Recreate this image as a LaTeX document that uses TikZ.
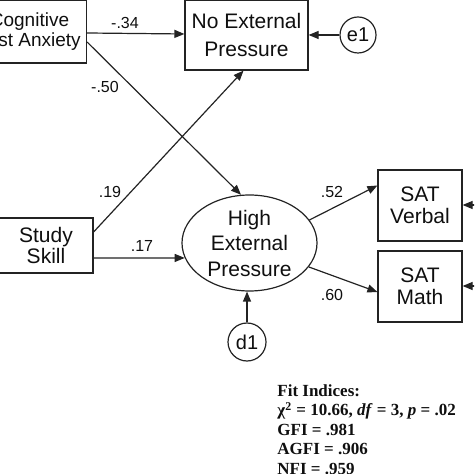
\documentclass[tikz,border=0pt]{standalone}
\usepackage{fontspec}
\setmainfont{Liberation Sans}
\newfontfamily\fitfont{Liberation Serif}
\usetikzlibrary{shapes.geometric,arrows.meta}
\definecolor{linegrey}{RGB}{35,35,35}
\definecolor{textblack}{RGB}{15,15,15}

\tikzset{
  varbox/.style={draw=linegrey, line width=0.6pt, align=center, inner sep=0pt, text=textblack},
  errcirc/.style={draw=linegrey, circle, line width=0.6pt, inner sep=0pt, text=textblack, font=\fontsize{10}{12}\selectfont},
  link/.style={draw=linegrey, line width=0.6pt, -{Triangle[length=5pt,width=4pt]}},
  coef/.style={inner sep=0pt, text=textblack, font=\fontsize{8}{9}\selectfont},
}

\begin{document}
\begin{tikzpicture}[x=0.5pt, y=-0.5pt]
\useasboundingbox (0,0) rectangle (474,474);
\clip (0,0) rectangle (474,474);

% observed and latent variables
\node[varbox, minimum width=57pt, minimum height=31.5pt, font=\fontsize{9.5}{10.25}\selectfont] (cta) at (29.5,31.5) {Cognitive\\Test Anxiety};
\node[varbox, minimum width=61.5pt, minimum height=35pt, font=\fontsize{10.5}{14}\selectfont] (nep) at (246.5,35) {No External\\Pressure};
\node[varbox, minimum width=47pt, minimum height=27.5pt, font=\fontsize{10.5}{10.25}\selectfont] (ss) at (46,245.5) {Study\\Skill};
\node[varbox, ellipse, minimum width=67.5pt, minimum height=48pt, font=\fontsize{10.5}{12.75}\selectfont] (hep) at (249.5,243) {High\\External\\Pressure};
\node[varbox, minimum width=42pt, minimum height=35.5pt, font=\fontsize{10.5}{11}\selectfont] (verbal) at (420,205.5) {SAT\\Verbal};
\node[varbox, minimum width=42pt, minimum height=35.5pt, font=\fontsize{10.5}{11}\selectfont] (math) at (420,286.5) {SAT\\Math};

% residuals
\node[errcirc, minimum size=18pt] (e1) at (358,35) {e1};
\node[errcirc, minimum size=19pt] (d1) at (247,342) {d1};
\coordinate (ev) at (495,205);
\coordinate (em) at (495,286);

% paths
\draw[link] ([yshift=-0.75pt]cta.east) -- ([yshift=0.5pt]nep.west);
\draw[link] ([yshift=-5.25pt]cta.east) -- (hep.100);
\draw[link] ([yshift=6.75pt]ss.east) -- ([xshift=-1.5pt]nep.south);
\draw[link] ([yshift=-6.25pt]ss.east) -- (hep.193);
\draw[link] (hep.21) -- ([yshift=10pt]verbal.west);
\draw[link] (hep.-22) -- ([yshift=-2.75pt]math.west);
\draw[link] (e1.west) -- (e1.west -| nep.east);
\draw[link] (d1.north) -- (d1.north |- hep.south);
\draw[link] (ev) -- (ev -| verbal.east);
\draw[link] (em) -- (em -| math.east);

% coefficients
\node[coef] (c34) at (125,23) {-.34};
\node[coef] (c50) at (105,87) {-.50};
\node[coef] (c19) at (110,192) {.19};
\node[coef] (c17) at (142,246) {.17};
\node[coef] (c52) at (332,192) {.52};
\node[coef] (c60) at (332,295) {.60};

% fit indices
\node[anchor=north west, inner sep=0pt, align=left, text=textblack, font=\fitfont\bfseries\fontsize{8.5}{9.75}\selectfont] (fit) at (277,384) {Fit Indices:\\χ\textsuperscript{2} = 10.66, \textit{df} = 3, \textit{p} = .02\\GFI = .981\\AGFI = .906\\NFI = .959};
\end{tikzpicture}
\end{document}
